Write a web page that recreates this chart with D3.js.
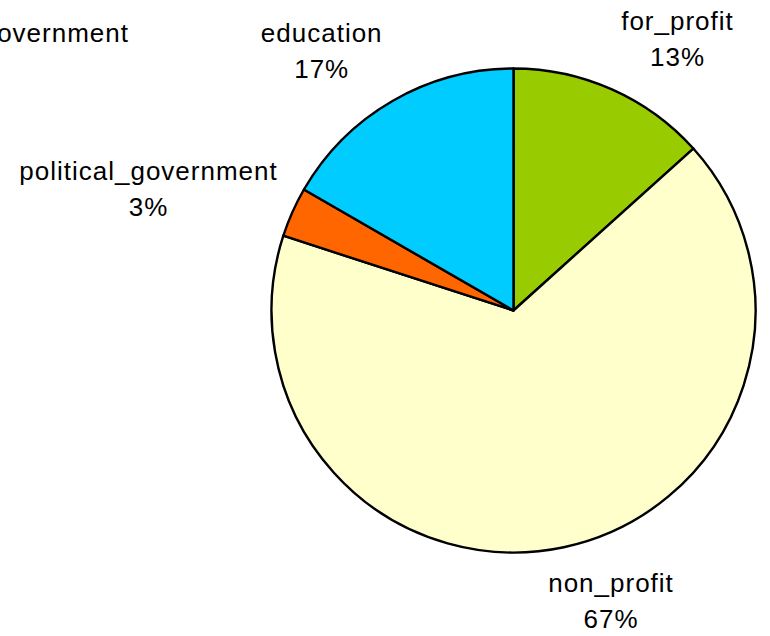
<!DOCTYPE html>
<html>
<head>
<meta charset="utf-8">
<script src="https://cdn.jsdelivr.net/npm/d3@7"></script>
<style>
  html, body { margin: 0; padding: 0; background: #fff; }
  svg { display: block; }
  text { font-family: "Liberation Sans", Arial, sans-serif; font-size: 26px; letter-spacing: 1px; fill: #000; }
</style>
</head>
<body>
<svg id="chart" width="770" height="636"></svg>
<script>
// Sector counts
const categories = ["for_profit", "non_profit", "political_government", "education", "international_government"];
const counts = [4, 20, 1, 5, 0];
const colors = ["#99CC00", "#FFFFCC", "#FF6600", "#00CCFF", "#C0C0C0"];

// Layout
const width = 770, height = 636;
const cx = 513.5, cy = 310.5, radius = 242;
const lineGap = 36;
// label anchors: [x, first-line baseline, anchor mode]
const labelLayout = {
  for_profit: [677.5, 29.5, "middle"],
  non_profit: [611, 591.7, "middle"],
  political_government: [148.5, 180, "middle"],
  education: [321.7, 41.7, "middle"],
  international_government: [129, 41.7, "end"]
};

const data = categories.map((c, i) => ({ name: c, value: counts[i], color: colors[i] }));
const total = d3.sum(counts);

const svg = d3.select("#chart");
const g = svg.append("g").attr("transform", `translate(${cx},${cy})`);

const pie = d3.pie().sort(null).value(d => d.value);
const arc = d3.arc().innerRadius(0).outerRadius(radius);
const arcs = pie(data);

g.selectAll("path.slice")
  .data(arcs.filter(a => a.data.value > 0))
  .join("path")
  .attr("class", "slice")
  .attr("d", arc)
  .attr("fill", d => d.data.color)
  .attr("stroke", "#000")
  .attr("stroke-width", 2.4)
  .attr("stroke-linejoin", "round");

const fmt = v => Math.round(v / total * 100) + "%";

arcs.forEach(a => {
  const [x, y, mode] = labelLayout[a.data.name];
  const t = svg.append("text").attr("y", y).attr("text-anchor", "middle");
  const l1 = t.append("tspan").attr("x", 0).text(a.data.name);
  const l2 = t.append("tspan").attr("x", 0).attr("dy", lineGap).text(fmt(a.data.value));
  let center = x;
  if (mode === "end") {
    const w = l1.node().getComputedTextLength();
    center = x - w / 2;
  }
  l1.attr("x", center);
  l2.attr("x", center);
});
</script>
</body>
</html>
